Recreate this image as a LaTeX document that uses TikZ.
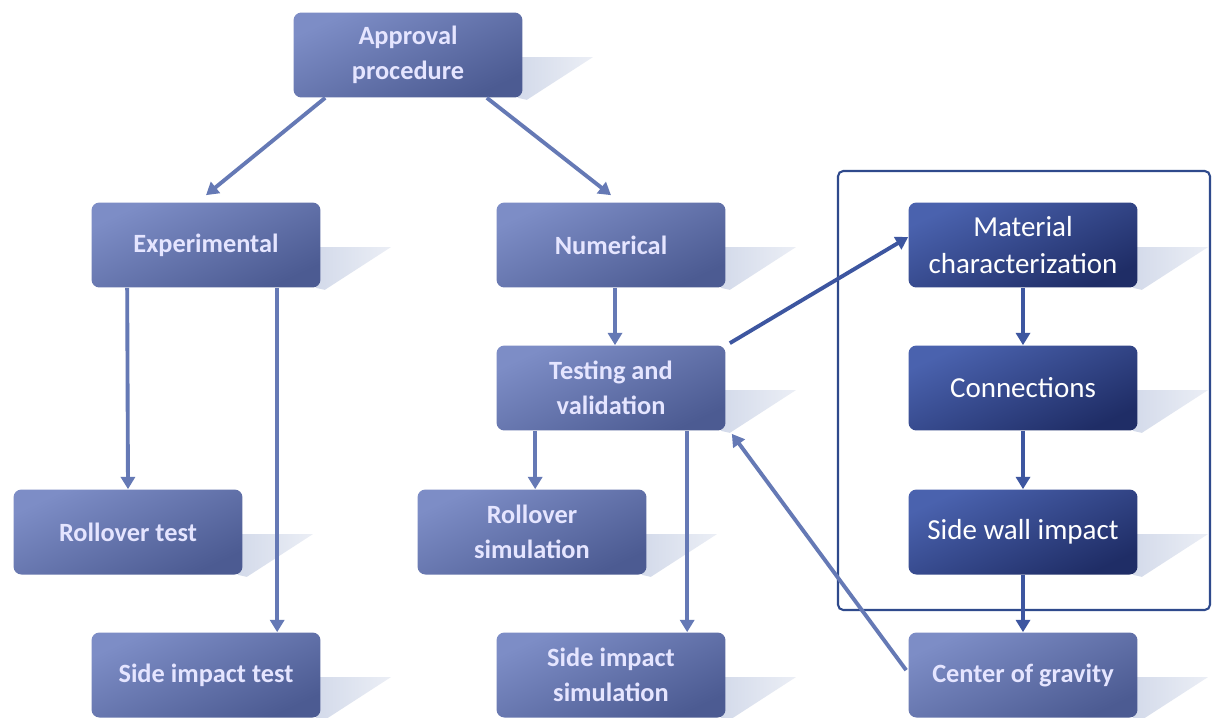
\documentclass[tikz,border=0pt]{standalone}
\usepackage{fontspec}
\setmainfont{Carlito}
\usetikzlibrary{arrows.meta,calc,backgrounds}
\definecolor{lighttop}{HTML}{7D8DC6}
\definecolor{lightbot}{HTML}{4C5B92}
\definecolor{darktop}{HTML}{4A62AE}
\definecolor{darkbot}{HTML}{1F2D66}
\definecolor{shadowc}{HTML}{D3DAEA}
\definecolor{arrowlight}{HTML}{6579B5}
\definecolor{arrowdark}{HTML}{3D56A0}
\definecolor{framec}{HTML}{2F4A8C}
\tikzset{
  boxbase/.style={rounded corners=4.5pt, minimum width=4.58cm, minimum height=1.7cm,
    align=center, inner sep=2pt},
  lightbox/.style={boxbase, top color=lighttop, bottom color=lightbot, shading angle=25,
    text=white!90!blue, font=\bfseries\fontsize{15}{20}\selectfont},
  darkbox/.style={boxbase, top color=darktop, bottom color=darkbot, shading angle=25, text=white,
    font=\fontsize{16.5}{21}\selectfont},
  conn/.style={line width=2.2pt, draw=arrowlight, -{Triangle[width=8pt,length=7pt]}},
  conndark/.style={conn, draw=arrowdark},
  shadowfill/.style={left color=shadowc, right color=shadowc!45!white},
}
\begin{document}
\begin{tikzpicture}[x=0.02cm, y=-0.02cm]
\useasboundingbox (0,0) rectangle (1213,717);

\node[lightbox] (appr) at (408,55) {Approval\\procedure};
\node[lightbox] (exp)  at (206,245) {Experimental};
\node[lightbox] (num)  at (611,245) {Numerical};
\node[lightbox] (test) at (611,388) {Testing and\\validation};
\node[lightbox] (roll) at (128,532) {Rollover test};
\node[lightbox] (rsim) at (532,532) {Rollover\\simulation};
\node[lightbox] (side) at (206,675) {Side impact test};
\node[lightbox] (ssim) at (611,675) {Side impact\\simulation};
\node[lightbox] (cog)  at (1023,675) {Center of gravity};
\node[darkbox] (mat)  at (1023,245) {Material\\characterization};
\node[darkbox] (con)  at (1023,388) {Connections};
\node[darkbox] (swi)  at (1023,532) {Side wall impact};

\begin{pgfonlayer}{background}
\fill[white] (0,0) rectangle (1213,717);
\foreach \n in {appr,exp,num,test,roll,rsim,side,ssim,cog,mat,con,swi}{
  \shade[shadowfill] ($(\n.north east)+(-5,45)$) -- ($(\n.north east)+(70,45)$)
    -- ($(\n.south east)+(4,2)$) -- ($(\n.south east)+(-5,0)$) -- cycle;
}
\end{pgfonlayer}

\draw[framec, line width=1.2pt, rounded corners=3pt] (838,171) rectangle (1210,610);

\draw[conn] ($(appr.south west)+(32,0)$) -- ($(exp.north)+(0,-7)$);
\draw[conn] ($(appr.south east)+(-36,0)$) -- ($(num.north)+(0,-7)$);
\draw[conn] ($(exp.south west)+(36,0)$) -- ($(roll.north)+(0,0)$);
\draw[conn] ($(exp.south west)+(186,0)$) -- ($(side.north west)+(186,0)$);
\draw[conn] ($(num.south)+(4,0)$) -- ($(test.north)+(4,0)$);
\draw[conn] ($(test.south west)+(39,0)$) -- ($(rsim.north west)+(118,0)$);
\draw[conn] ($(test.south west)+(191,0)$) -- ($(ssim.north west)+(191,0)$);
\draw[conndark] ($(test.north east)+(4,-2)$) -- ($(mat.west)+(0,-8)$);
\draw[conndark] (mat) -- (con);
\draw[conndark] (con) -- (swi);
\draw[conndark] (swi) -- (cog);
\draw[conn] ($(cog.north west)+(-2,38)$) -- ($(test.south east)+(6,3)$);
\end{tikzpicture}
\end{document}
